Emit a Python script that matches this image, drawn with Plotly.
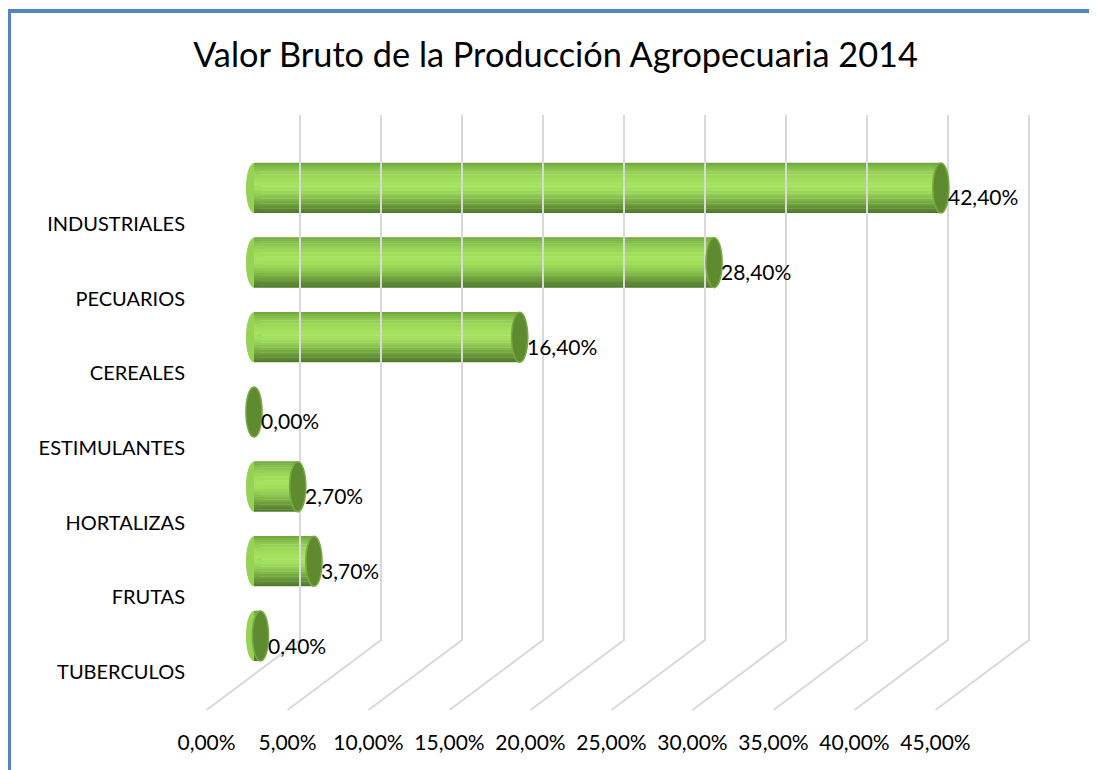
import plotly.graph_objects as go

CATEGORIES = ["INDUSTRIALES", "PECUARIOS", "CEREALES", "ESTIMULANTES", "HORTALIZAS", "FRUTAS", "TUBERCULOS"]
VALUES = [42.4, 28.4, 16.4, 0.0, 2.7, 3.7, 0.4]
VALUE_TEXT = ["42,40%", "28,40%", "16,40%", "0,00%", "2,70%", "3,70%", "0,40%"]
TICKS = [0, 5, 10, 15, 20, 25, 30, 35, 40, 45]
TICK_TEXT = ["0,00%", "5,00%", "10,00%", "15,00%", "20,00%", "25,00%", "30,00%", "35,00%", "40,00%", "45,00%"]

FONT = "Lato"

# page is rendered with an 8px body margin: work in page pixels
OFF = 8
PAGE_W, PAGE_H = 1097, 770
W, H = PAGE_W - OFF, PAGE_H - OFF
L, R, T, B = 186, 1045, 115, 722   # plot area, page px
S = 16.2        # px per percent
X0 = 254        # page px of 0 %
ROW = 74.67     # px per category
ROW0 = 672      # page px of bottom category label

BACK = 2.84     # back-wall shift (percent units)
FRONT = -2.93   # floor front shift (percent units)
BACK_FLOOR = (B - 640) / (B - T)
FRONT_FLOOR = (B - 710) / (B - T)

BAR_C = 0.482   # bar center above category label (category units)
BAR_H = 0.67
CAP = 0.5       # half width of end ellipse (percent units)

# vertical shading of the cylinder, top -> bottom
BANDS = [
    (0.00, 0.04, "#74a93f"),
    (0.04, 0.08, "#7cb445"),
    (0.08, 0.12, "#84bf4b"),
    (0.12, 0.17, "#8cc84f"),
    (0.17, 0.23, "#94d054"),
    (0.23, 0.30, "#9bd858"),
    (0.30, 0.38, "#a0de5b"),
    (0.38, 0.47, "#a4e35d"),
    (0.47, 0.55, "#a1df5c"),
    (0.55, 0.61, "#9ad758"),
    (0.61, 0.66, "#92ce53"),
    (0.66, 0.71, "#89c44e"),
    (0.71, 0.76, "#80b848"),
    (0.76, 0.81, "#77ab42"),
    (0.81, 0.86, "#6d9f3c"),
    (0.86, 0.91, "#649236"),
    (0.91, 0.96, "#5b8731"),
    (0.96, 1.00, "#537c2c"),
]

n = len(CATEGORIES)
fig = go.Figure()

# perspective gridlines
gx, gy = [], []
for t in TICKS:
    gx += [t + BACK, t + BACK, t + FRONT, None]
    gy += [1, BACK_FLOOR, FRONT_FLOOR, None]
fig.add_trace(go.Scatter(
    x=gx, y=gy, yaxis="y2", mode="lines",
    line=dict(color="#d9d9d9", width=2),
    hoverinfo="skip", showlegend=False,
))

top = BAR_C + BAR_H / 2
for a, b, c in BANDS:
    fig.add_trace(go.Bar(
        y=CATEGORIES, x=VALUES, base=0, orientation="h",
        offset=top - b * BAR_H, width=(b - a) * BAR_H + 0.004,
        marker=dict(color=c, line=dict(width=0)),
        hoverinfo="skip", showlegend=False,
    ))

shapes = []
for i, (cat, v) in enumerate(zip(CATEGORIES, VALUES)):
    k = n - 1 - i
    y0, y1 = k + BAR_C - BAR_H / 2, k + BAR_C + BAR_H / 2
    shapes.append(dict(type="circle", xref="x", yref="y", layer="below",
                       x0=-CAP, x1=CAP, y0=y0, y1=y1,
                       fillcolor="#96d255", line=dict(width=0)))
    shapes.append(dict(type="circle", xref="x", yref="y", layer="above",
                       x0=v - CAP, x1=v + CAP, y0=y0, y1=y1,
                       fillcolor="#5e8b30", line=dict(color="#79aa42", width=1.5)))


# chart frame (top and left edges)
def px_x(p):
    return (p - L) / (R - L)


def px_y(p):
    return (B - p) / (B - T)


shapes.append(dict(type="line", xref="paper", yref="paper", layer="above",
                   x0=px_x(7), x1=px_x(PAGE_W + 5), y0=px_y(11), y1=px_y(11),
                   line=dict(color="#5383c1", width=4)))
shapes.append(dict(type="line", xref="paper", yref="paper", layer="above",
                   x0=px_x(9), x1=px_x(9), y0=px_y(9), y1=px_y(PAGE_H + 5),
                   line=dict(color="#5383c1", width=4)))

annotations = []
for cat, v, txt in zip(CATEGORIES, VALUES, VALUE_TEXT):
    annotations.append(dict(x=v + CAP, y=cat, text=txt, showarrow=False,
                            xanchor="left", yanchor="middle", yshift=27, xshift=-3,
                            font=dict(family=FONT, size=21, color="#000000")))

fig.update_layout(
    width=W, height=H,
    margin=dict(l=L - OFF, r=W - (R - OFF), t=T - OFF, b=H - (B - OFF)),
    paper_bgcolor="white", plot_bgcolor="white",
    barmode="overlay",
    font=dict(family=FONT, size=20, color="#000000"),
    title=dict(text="Valor Bruto de la Producción Agropecuaria 2014",
               x=(555.5 - OFF) / W, xanchor="center", y=1 - (55 - OFF) / H, yanchor="middle",
               font=dict(family=FONT, size=34.3, color="#000000")),
    xaxis=dict(range=[(L - X0) / S, (R - X0) / S], showgrid=False, zeroline=False,
               showline=False, tickmode="array",
               tickvals=[t + FRONT for t in TICKS], ticktext=TICK_TEXT,
               ticks="outside", ticklen=2, tickcolor="rgba(0,0,0,0)",
               tickfont=dict(size=21)),
    yaxis=dict(type="category", categoryorder="array", categoryarray=CATEGORIES[::-1],
               range=[(ROW0 - B) / ROW, (ROW0 - T) / ROW],
               showgrid=False, zeroline=False, showline=False, ticks="",
               tickfont=dict(size=20)),
    yaxis2=dict(overlaying="y", range=[0, 1], visible=False),
    shapes=shapes, annotations=annotations,
)

fig.write_html("out.html")
